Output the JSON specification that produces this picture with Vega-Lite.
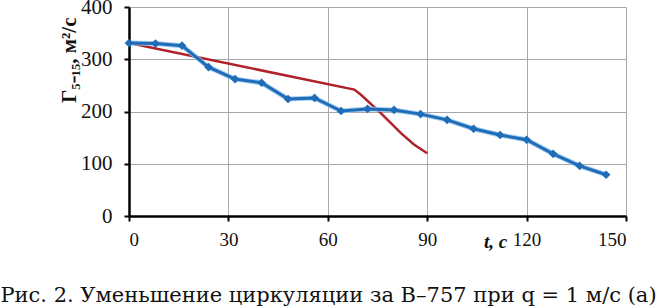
{
  "$schema": "https://vega.github.io/schema/vega-lite/v6.json",
  "autosize": {"type": "none"},
  "width": 497,
  "height": 209,
  "padding": {"left": 129, "top": 7, "right": 31, "bottom": 92},
  "background": "white",
  "config": {"view": {"stroke": null}},
  "title": {
    "text": "Рис. 2. Уменьшение циркуляции за B–757 при q = 1 м/с (а)",
    "orient": "bottom",
    "anchor": "middle",
    "frame": "group",
    "dx": -49,
    "offset": 34,
    "font": "DejaVu Serif",
    "fontSize": 21,
    "fontWeight": "normal",
    "color": "#111"
  },
  "datasets": {
    "blue": [
      {"t": 0, "g": 331}, {"t": 8, "g": 330}, {"t": 16, "g": 326}, {"t": 24, "g": 285},
      {"t": 32, "g": 262}, {"t": 40, "g": 255}, {"t": 48, "g": 224}, {"t": 56, "g": 226},
      {"t": 64, "g": 201}, {"t": 72, "g": 205}, {"t": 80, "g": 203}, {"t": 88, "g": 195},
      {"t": 96, "g": 184}, {"t": 104, "g": 167}, {"t": 112, "g": 155}, {"t": 120, "g": 146},
      {"t": 128, "g": 119}, {"t": 136, "g": 96}, {"t": 144, "g": 79}
    ],
    "red": [
      {"t": 0, "g": 331}, {"t": 68, "g": 242}, {"t": 70, "g": 232}, {"t": 76, "g": 197},
      {"t": 82, "g": 159}, {"t": 86, "g": 137}, {"t": 90, "g": 120}
    ]
  },
  "encoding": {
    "x": {
      "field": "t", "type": "quantitative",
      "scale": {"domain": [0, 150], "nice": false},
      "axis": {
        "values": [0, 30, 60, 90, 120, 150],
        "title": "t, с",
        "titleFont": "Liberation Serif", "titleFontSize": 19, "titleFontWeight": "bold", "titleFontStyle": "italic",
        "titleX": 366, "titleY": 31, "titleAlign": "center", "titleBaseline": "alphabetic", "titleColor": "#111",
        "labelFont": "Liberation Serif", "labelFontSize": 19, "labelColor": "#111", "labelPadding": 9,
        "domainColor": "#000", "domainWidth": 2.5, "tickColor": "#000", "tickWidth": 2, "tickSize": 5,
        "gridColor": "#a8a8a8", "gridWidth": 1
      }
    },
    "y": {
      "field": "g", "type": "quantitative",
      "scale": {"domain": [0, 400], "nice": false},
      "axis": {
        "values": [0, 100, 200, 300, 400],
        "title": "Г₅₋₁₅, м²/с",
        "titleFont": "Liberation Serif", "titleFontSize": 21, "titleFontWeight": "bold",
        "titleAngle": -90, "titleX": -54, "titleY": 10, "titleAlign": "right", "titleBaseline": "alphabetic", "titleColor": "#111",
        "labelFont": "Liberation Serif", "labelFontSize": 21, "labelColor": "#111", "labelPadding": 12,
        "domainColor": "#000", "domainWidth": 2.5, "tickColor": "#000", "tickWidth": 2, "tickSize": 5,
        "gridColor": "#a8a8a8", "gridWidth": 1
      }
    }
  },
  "layer": [
    {"data": {"name": "red"}, "mark": {"type": "line", "color": "#b0222a", "strokeWidth": 2.5, "interpolate": "linear"}},
    {"data": {"name": "blue"}, "mark": {"type": "line", "color": "#8fc1ec", "strokeWidth": 5, "opacity": 0.8}},
    {"data": {"name": "blue"}, "mark": {"type": "line", "color": "#1f6cb8", "strokeWidth": 3}},
    {"data": {"name": "blue"}, "mark": {"type": "point", "shape": "diamond", "filled": true, "color": "#1f6cb8", "size": 75, "opacity": 1}}
  ]
}
